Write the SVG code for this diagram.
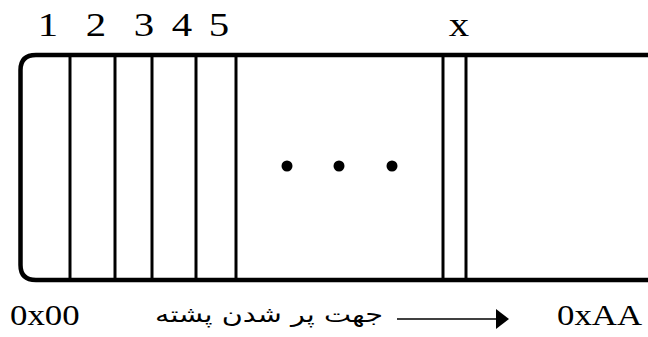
<svg xmlns="http://www.w3.org/2000/svg" width="648" height="337" viewBox="0 0 648 337">
<style>
.lbl{font-family:"Liberation Serif","Times New Roman",serif;fill:#000}
.top{font-size:34px}
.bot{font-size:29px}
.fa{font-family:"DejaVu Serif","DejaVu Sans","Noto Sans",serif;font-size:22px;fill:#000}
.frame{fill:none;stroke:#000;stroke-width:4.5}
.cell{stroke:#000;stroke-width:3}
</style>
<rect width="648" height="337" fill="#fff"/>
<g id="stack">
<path class="frame" d="M652 55 H36 Q20.5 55 20.5 70 V265 Q20.5 280 36 280 H652"/>
</g>
<g id="cells">
<line class="cell" x1="70" y1="55" x2="70" y2="280"/>
<line class="cell" x1="115" y1="55" x2="115" y2="280"/>
<line class="cell" x1="152" y1="55" x2="152" y2="280"/>
<line class="cell" x1="196" y1="55" x2="196" y2="280"/>
<line class="cell" x1="236" y1="55" x2="236" y2="280"/>
<line class="cell" x1="443" y1="55" x2="443" y2="280"/>
<line class="cell" x1="466" y1="55" x2="466" y2="280"/>
</g>
<g id="labels" class="lbl top" text-anchor="middle">
<text transform="translate(48,36) scale(1.2,1)">1</text>
<text transform="translate(96,36) scale(1.2,1)">2</text>
<text transform="translate(144,36) scale(1.2,1)">3</text>
<text transform="translate(182,36) scale(1.2,1)">4</text>
<text transform="translate(219,36) scale(1.2,1)">5</text>
<text transform="translate(459,36) scale(1.2,1)">x</text>
</g>
<g id="dots">
<circle cx="287" cy="166" r="5.5"/>
<circle cx="339" cy="166" r="5.5"/>
<circle cx="392" cy="166" r="5.5"/>
</g>
<g id="addr" class="lbl bot">
<text transform="translate(10,325) scale(1.2,1)">0x00</text>
<text transform="translate(557,325) scale(1.2,1)">0xAA</text>
</g>
<g id="connectors">
<line x1="397" y1="319" x2="498" y2="319" stroke="#000" stroke-width="1.6"/>
<polygon points="496,309 509,319 496,329" fill="#000"/>
</g>
<g id="direction">
<text class="fa" x="383" y="322" text-anchor="end" textLength="228" lengthAdjust="spacingAndGlyphs">جهت پر شدن پشته</text>
</g>
</svg>
